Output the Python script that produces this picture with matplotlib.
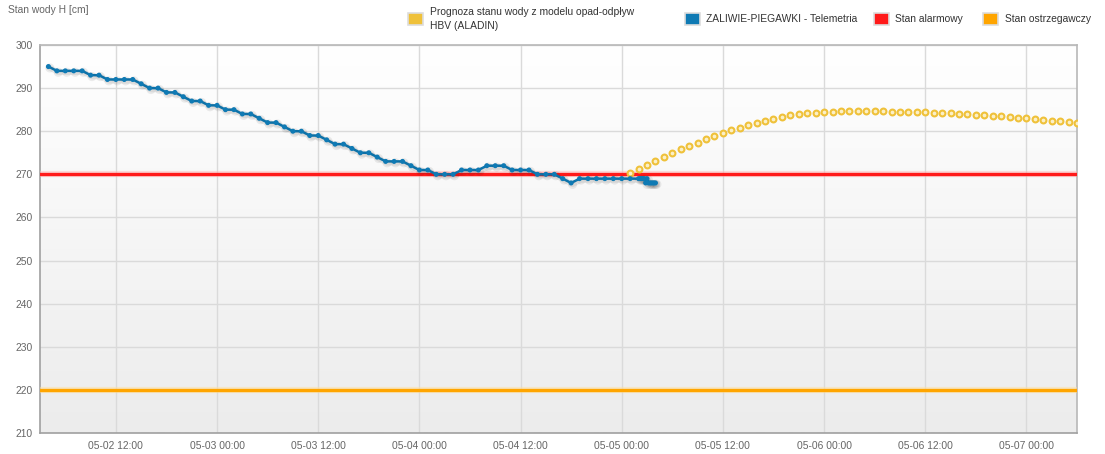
import numpy as np
import pandas as pd
import matplotlib
matplotlib.use("Agg")
import matplotlib.pyplot as plt
import matplotlib.dates as mdates
from matplotlib.patches import Rectangle
from matplotlib.colors import LinearSegmentedColormap
import matplotlib.patheffects as pe

plt.rcParams['font.family'] = ['Liberation Sans', 'DejaVu Sans']

# ---------------- data ----------------
telemetry_hourly_start = "2021-05-02 04:00"
telemetry_hourly = [
    295, 294, 294, 294, 294, 293, 293, 292, 292, 292, 292, 291, 290, 290, 289, 289, 288, 287, 287, 286,
    286, 285, 285, 284, 284, 283, 282, 282, 281, 280, 280, 279, 279, 278, 277, 277, 276, 275, 275, 274,
    273, 273, 273, 272,
    271, 271, 270, 270, 270, 271, 271, 271, 272, 272, 272, 271, 271, 271, 270, 270, 270, 269, 268, 269,
    269, 269, 269, 269,
    269, 269, 269,
]
telemetry_10min_start = "2021-05-05 02:10"
telemetry_10min = [269, 269, 269, 269, 268, 269, 268, 268, 268, 268, 268, 268]

forecast_start = "2021-05-05 01:00"
forecast = [
    270.4, 271.2, 272.2, 273.1, 274.0, 274.9, 275.8, 276.6, 277.3, 278.1,
    278.8, 279.5, 280.2, 280.7, 281.4, 281.9, 282.4, 282.8, 283.3, 283.7,
    283.9, 284.2, 284.3, 284.5, 284.5, 284.6, 284.6, 284.6, 284.6, 284.6,
    284.6, 284.5, 284.5, 284.5, 284.45, 284.4, 284.3, 284.2, 284.15, 284.1,
    283.9, 283.8, 283.75, 283.6, 283.5, 283.4, 283.1, 283.0, 282.8, 282.7,
    282.4, 282.3, 282.1, 282.0,
]
alarm_level = 270
warning_level = 220

x_start = "2021-05-02 03:00"
x_end = "2021-05-07 06:00"
y_min, y_max, y_step = 210, 300, 10

legend_labels = ["Prognoza stanu wody z modelu opad-odpływ\nHBV (ALADIN)",
                 "ZALIWIE-PIEGAWKI - Telemetria", "Stan alarmowy", "Stan ostrzegawczy"]
y_title = "Stan wody H [cm]"

# ---------------- colors ----------------
c_fore = "#efc13a"
c_tel = "#0f7ab4"
c_alarm = "#ff1a1a"
c_warn = "#ffa500"
c_text = "#666666"
FS = 7.4

t_h = pd.date_range(telemetry_hourly_start, periods=len(telemetry_hourly), freq="h")
t_10 = pd.date_range(telemetry_10min_start, periods=len(telemetry_10min), freq="10min")
t_tel = t_h.append(t_10)
v_tel = list(telemetry_hourly) + list(telemetry_10min)
t_fc = pd.date_range(forecast_start, periods=len(forecast), freq="h")

W, H = 1105, 454
fig = plt.figure(figsize=(W / 100, H / 100), dpi=100)
L, R, T, B = 40, 1077, 45, 433
ax = fig.add_axes([L / W, 1 - B / H, (R - L) / W, (B - T) / H])

# gradient background
grad = np.linspace(0, 1, 256).reshape(-1, 1)
cmap = LinearSegmentedColormap.from_list("bg", ["#ffffff", "#ececec"])
ax.imshow(grad, aspect="auto", cmap=cmap, extent=[0, 1, 0, 1], transform=ax.transAxes,
          origin="upper", zorder=0)

ax.set_xlim(pd.Timestamp(x_start), pd.Timestamp(x_end))
ax.set_ylim(y_min, y_max)
ax.set_yticks(np.arange(y_min, y_max + 1, y_step))
ax.xaxis.set_major_locator(mdates.HourLocator(byhour=[0, 12]))
ax.xaxis.set_major_formatter(mdates.DateFormatter("%m-%d %H:%M"))
ax.grid(True, color="#dadada", linewidth=1, zorder=1)
ax.set_axisbelow(True)
ax.tick_params(axis="both", length=0, labelsize=FS, labelcolor=c_text)
ax.tick_params(axis="y", pad=5)
ax.tick_params(axis="x", pad=6)
for s in ax.spines.values():
    s.set_color("#b8b8b8")
    s.set_linewidth(1.2)
ax.spines["left"].set_color("#a0a0a0")
ax.spines["bottom"].set_color("#a0a0a0")

# threshold lines
ax.axhline(alarm_level, color=c_alarm, linewidth=2.4, zorder=3,
           path_effects=[pe.Stroke(linewidth=4.5, foreground="#ffb8b8", alpha=0.5), pe.Normal()])
ax.axhline(warning_level, color=c_warn, linewidth=2.4, zorder=3,
           path_effects=[pe.Stroke(linewidth=4.5, foreground="#ffe0a0", alpha=0.5), pe.Normal()])

# forecast points
ax.plot(t_fc, forecast, linestyle="none", marker="o", markersize=4.2,
        markerfacecolor="#fbf0c8", markeredgecolor=c_fore, markeredgewidth=1.5, zorder=4)

# telemetry
ax.plot(t_tel, v_tel, color=c_tel, linewidth=1.8, marker="o", markersize=2.6,
        markerfacecolor=c_tel, markeredgecolor=c_tel, zorder=5,
        path_effects=[pe.SimpleLineShadow(offset=(1, -1), shadow_color="#000000", alpha=0.07, linewidth=4),
                      pe.Normal()])

# y title
fig.text(8 / W, 1 - 10 / H, y_title, fontsize=FS, color=c_text, ha="left", va="center")

# legend (manual)
def legend_item(x_sq, y_c, color, x_txt, label):
    fig.patches.append(Rectangle((x_sq / W, 1 - (y_c + 6) / H), 15 / W, 12 / H,
                                 transform=fig.transFigure, facecolor=color,
                                 edgecolor="#dddddd", linewidth=1.2))
    fig.text(x_txt / W, 1 - y_c / H, label, fontsize=FS, color="#333333",
             ha="left", va="center", linespacing=1.55)

legend_item(408, 19, c_fore, 430, legend_labels[0])
legend_item(685, 19, c_tel, 706, legend_labels[1])
legend_item(874, 19, c_alarm, 895, legend_labels[2])
legend_item(983, 19, c_warn, 1005, legend_labels[3])

fig.savefig("out.png", dpi=100)
